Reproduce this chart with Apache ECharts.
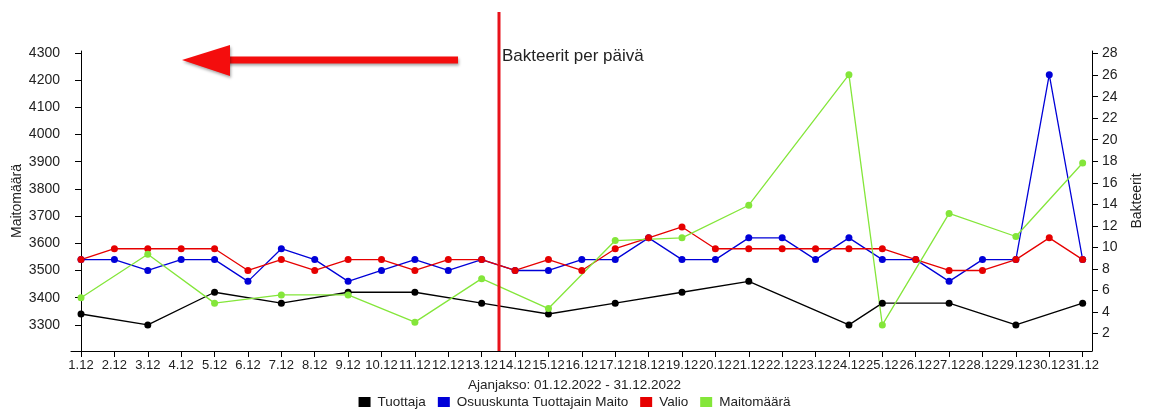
<!DOCTYPE html>
<html>
<head>
<meta charset="utf-8">
<script src="https://cdn.jsdelivr.net/npm/echarts@6.0.0/dist/echarts.min.js"></script>
<style>
  html, body { margin: 0; padding: 0; background: #fff; }
  #chart { width: 1149px; height: 410px; }
</style>
</head>
<body>
<div id="chart"></div>
<script>
// päivät 1.12 - 31.12
const days = ['1.12', '2.12', '3.12', '4.12', '5.12', '6.12', '7.12', '8.12', '9.12', '10.12',
  '11.12', '12.12', '13.12', '14.12', '15.12', '16.12', '17.12', '18.12', '19.12', '20.12',
  '21.12', '22.12', '23.12', '24.12', '25.12', '26.12', '27.12', '28.12', '29.12', '30.12', '31.12'];

// null = ei mittausta sinä päivänä
const tuottaja = [3340, null, 3300, null, 3420, null, 3380, null, 3420, null,
  3420, null, 3380, null, 3340, null, 3380, null, 3420, null,
  3460, null, null, 3300, 3380, null, 3380, null, 3300, null, 3380];
const osuuskunta = [3540, 3540, 3500, 3540, 3540, 3460, 3580, 3540, 3460, 3500,
  3540, 3500, 3540, 3500, 3500, 3540, 3540, 3620, 3540, 3540,
  3620, 3620, 3540, 3620, 3540, 3540, 3460, 3540, 3540, 4220, 3540];
const valio = [3540, 3580, 3580, 3580, 3580, 3500, 3540, 3500, 3540, 3540,
  3500, 3540, 3540, 3500, 3540, 3500, 3580, 3620, 3660, 3580,
  3580, 3580, 3580, 3580, 3580, 3540, 3500, 3500, 3540, 3620, 3540];
const maitomaara = [3400, null, 3560, null, 3380, null, 3410, null, 3410, null,
  3310, null, 3470, null, 3360, null, 3610, null, 3620, null,
  3740, null, null, 4220, 3300, null, 3710, null, 3625, null, 3895];

const seriesNames = ['Tuottaja', 'Osuuskunta Tuottajain Maito', 'Valio', 'Maitomäärä'];
const seriesColors = ['#000000', '#0000d8', '#e60000', '#84e63a'];
const seriesData = [tuottaja, osuuskunta, valio, maitomaara];

const font = 'Liberation Sans, Arial, sans-serif';
const textColor = '#222';

const chart = echarts.init(document.getElementById('chart'), null, { renderer: 'canvas' });

// pisteet indeksin mukaan, tyhjät päivät jätetään pois ja viiva yhdistetään
const toPoints = (arr) => arr.map((v, i) => [i, v]).filter(p => p[1] !== null);

const option = {
  animation: false,
  textStyle: { fontFamily: font },
  title: [
    {
      text: 'Bakteerit per päivä',
      left: 502,
      top: 48,
      padding: 0,
      textStyle: { fontSize: 17, fontWeight: 'normal', color: textColor, fontFamily: font }
    },
    {
      text: 'Ajanjakso: 01.12.2022 - 31.12.2022',
      left: 'center',
      top: 378,
      padding: 0,
      textStyle: { fontSize: 13.5, fontWeight: 'normal', color: textColor, fontFamily: font }
    }
  ],
  legend: {
    data: seriesNames,
    left: 'center',
    top: 395,
    padding: 0,
    icon: 'rect',
    itemWidth: 12,
    itemHeight: 10,
    itemGap: 12,
    textStyle: { fontSize: 13.5, color: textColor, fontFamily: font, padding: [0, 0, 0, 2] }
  },
  grid: { left: 71, top: 51, width: 1021, height: 300, outerBoundsMode: 'none', containLabel: false },
  xAxis: {
    type: 'value',
    min: -0.3,
    max: 30.28,
    splitNumber: 30,
    minInterval: 1,
    maxInterval: 1,
    axisLine: { show: true, lineStyle: { color: '#000', width: 1 } },
    axisTick: { show: true, length: 6, lineStyle: { color: '#000' } },
    splitLine: { show: false },
    axisLabel: {
      showMinLabel: false,
      showMaxLabel: false,
      margin: 8,
      fontSize: 13,
      color: textColor,
      fontFamily: font,
      formatter: (v) => (Number.isInteger(v) && days[v]) ? days[v] : ''
    }
  },
  yAxis: [
    {
      type: 'value',
      position: 'left',
      min: 3204,
      max: 4307,
      splitNumber: 11,
      name: 'Maitomäärä',
      nameLocation: 'middle',
      nameRotate: 90,
      nameGap: 47,
      nameMoveOverlap: false,
      nameTextStyle: { fontSize: 14, color: textColor, fontFamily: font },
      axisLine: { show: true, lineStyle: { color: '#000', width: 1 } },
      axisTick: { show: true, length: 6, lineStyle: { color: '#000' } },
      splitLine: { show: false },
      axisLabel: {
        showMinLabel: false, showMaxLabel: false, margin: 11, fontSize: 14, color: textColor, fontFamily: font,
        formatter: (v) => String(v)
      }
    },
    {
      type: 'value',
      position: 'right',
      min: 0.38,
      max: 28.24,
      splitNumber: 14,
      name: 'Bakteerit',
      nameLocation: 'middle',
      nameRotate: 90,
      nameGap: 38,
      nameMoveOverlap: false,
      nameTextStyle: { fontSize: 14, color: textColor, fontFamily: font },
      axisLine: { show: true, lineStyle: { color: '#000', width: 1 } },
      axisTick: { show: true, length: 6, lineStyle: { color: '#000' } },
      splitLine: { show: false },
      axisLabel: {
        showMinLabel: false, showMaxLabel: false, margin: 10, fontSize: 14, color: textColor, fontFamily: font,
        formatter: (v) => String(v)
      }
    }
  ],
  series: seriesNames.map((name, idx) => ({
    name: name,
    type: 'line',
    yAxisIndex: 0,
    data: toPoints(seriesData[idx]),
    symbol: 'circle',
    symbolSize: 7,
    showAllSymbol: true,
    itemStyle: { color: seriesColors[idx] },
    lineStyle: { color: seriesColors[idx], width: 1.3 },
    emphasis: { disabled: true }
  })),
  // kuvakaappaukseen piirretyt merkinnät: pystyviiva ja nuoli
  graphic: [
    {
      type: 'line',
      shape: { x1: 499, y1: 12, x2: 499, y2: 351 },
      style: { stroke: '#e8111a', lineWidth: 3 },
      z: 100
    },
    {
      type: 'group',
      z: 100,
      children: [
        {
          type: 'rect',
          shape: { x: 226, y: 56.5, width: 232, height: 7 },
          style: { fill: '#f40d0d', shadowBlur: 3, shadowColor: 'rgba(0,0,0,0.35)', shadowOffsetX: 1, shadowOffsetY: 2 }
        },
        {
          type: 'polygon',
          shape: { points: [[182, 60], [230, 45], [230, 76]] },
          style: { fill: '#f40d0d', shadowBlur: 3, shadowColor: 'rgba(0,0,0,0.35)', shadowOffsetX: 1, shadowOffsetY: 2 }
        }
      ]
    }
  ]
};

chart.setOption(option);
</script>
</body>
</html>
